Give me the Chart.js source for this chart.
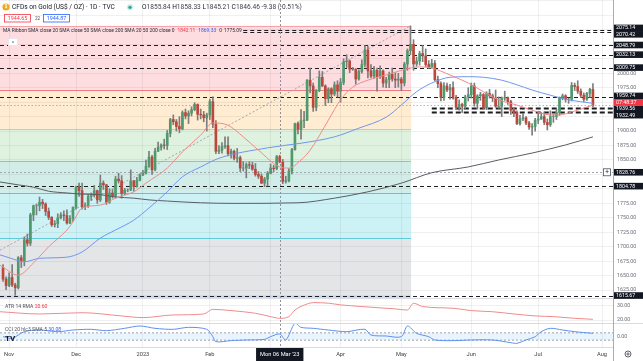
<!DOCTYPE html>
<html>
<head>
<meta charset="utf-8">
<script src="https://cdn.jsdelivr.net/npm/chart.js@4.4.0/dist/chart.umd.min.js"></script>
<style>
  html, body { margin: 0; padding: 0; background: #fff; overflow: hidden; }
  canvas { display: block; }
</style>
</head>
<body>
<canvas id="c" width="643" height="361"></canvas>
<script>
// daily candles, index 0 = Fri 28 Oct 2022, last = Thu 27 Jul 2023
const OPEN = [
  1664,1644,1633,1647,1634,1629,1681,1676,1712,1706,
  1755,1771,1771,1777,1774,1761,1751,1738,1740,1750,
  1755,1754,1741,1749,1768,1803,1797,1769,1771,1787,
  1789,1797,1781,1810,1807,1777,1793,1787,1817,1814,
  1792,1798,1798,1814,1804,1815,1824,1827,1839,1855,
  1833,1865,1872,1876,1875,1896,1920,1916,1908,1904,
  1932,1926,1931,1937,1946,1929,1928,1923,1928,1951,
  1912,1865,1867,1873,1875,1861,1865,1853,1854,1836,
  1836,1842,1841,1834,1825,1822,1810,1817,1827,1836,
  1835,1855.84,1846,1813,1814,1831,1868,1913,1903,1918,
  1919,1988,1978,1941,1970,1993,1978,1956,1973,1964,
  1980,1969,1984,2020,2021,2007,2007,1990,2003,2015,
  2040,2004,1995,2005,1994,2004,1983,1989,1998,1990,
  1988,1990,1983,2016,2039,2050,2016,2021,2034,2030,
  2015,2011,2017,1989,1982,1958,1978,1971,1975,1957,
  1941,1946,1943,1959,1963,1978,1948,1961,1963,1940,
  1965,1961,1957,1943,1943,1957,1958,1951,1936,1932,
  1913,1921,1923,1914,1907,1908,1919,1921,1925,1915,
  1911,1925,1925,1932,1957,1961,1955,1955,1979,1977,
  1969,1962,1955,1965,1972
];
const HIGH = [
  1669,1648,1655,1669,1637,1683,1685,1717,1722,1758,
  1772,1774,1786,1782,1776,1767,1752,1745,1757,1759,
  1762,1764,1754,1769,1805,1810,1810,1776,1790,1793,
  1806,1798,1824,1814,1808,1800,1799,1822,1827,1823,
  1801,1800,1833,1815,1820,1826,1832,1850,1865,1858,
  1870,1881,1878,1886,1901,1922,1928,1920,1925,1935,
  1938,1935,1942,1949,1947,1938,1934,1931,1955,1959,
  1918,1875,1880,1890,1890,1869,1867,1870,1857,1847,
  1845,1847,1846,1844,1830,1826,1820,1830,1843,1841,
  1858,1858.33,1851,1822,1835,1870,1914,1916,1937,1934,
  1989,2009,1983,1972,2004,2003,1980,1975,1975,1985,
  1987,1991,2025,2032,2023,2010,2008,2006,2023,2048,
  2047,2015,2012,2009,2013,2006,1993,2002,2009,2001,
  2000,1993,2019,2042,2081.82,2058,2028,2038,2048,2042,
  2022,2024,2022,1995,1985,1984,1983,1981,1985,1962,
  1954,1948,1962,1975,1983,1983,1963,1967,1965,1968,
  1972,1964,1971,1959,1959,1969,1959,1953,1940,1935,
  1927,1930,1925,1917,1913,1922,1930,1932,1932,1921,
  1935,1929,1938,1959,1964,1963,1957,1984,1983,1987,
  1973,1966,1967,1974,1982
];
const LOW = [
  1640,1626,1631,1631,1616,1627,1664,1667,1701,1702,
  1745,1755,1762,1766,1754,1747,1735,1734,1733,1748,
  1745,1739,1740,1744,1765,1787,1765,1764,1768,1780,
  1786,1775,1778,1799,1773,1775,1784,1784,1810,1784,
  1790,1795,1797,1796,1803,1814,1823,1826,1837,1825,
  1831,1865,1867,1869,1868,1890,1911,1900,1897,1902,
  1921,1913,1926,1935,1919,1921,1916,1900,1920,1906,
  1861,1861,1862,1870,1857,1853,1850,1846,1830,1831,
  1819,1835,1832,1822,1818,1809,1804,1805,1826,1830,
  1833,1845.21,1809,1810,1812,1826,1867,1895,1886,1906,
  1918,1966,1934,1935,1968,1977,1944,1949,1949,1961,
  1959,1950,1980,2010,2001,2005,1981,1988,2000,2011,
  1992,1992,1991,1969,1991,1976,1975,1975,1986,1975,
  1976,1970,1978,2005,2032,2005,2012,2014,2020,2011,
  2008,2009,1987,1975,1952,1953,1968,1955,1955,1937,
  1936,1932,1938,1952,1957,1943,1938,1953,1939,1937,
  1957,1951,1941,1939,1925,1953,1946,1929,1925,1911,
  1910,1918,1911,1903,1893,1900,1913,1920,1911,1902,
  1908,1915,1920,1927,1954,1950,1948,1952,1970,1965,
  1958,1951,1953,1958,1942
];
const CLOSE = [
  1644,1633,1647,1634,1629,1681,1676,1712,1706,1755,
  1771,1771,1777,1774,1761,1751,1738,1740,1750,1755,
  1754,1741,1749,1768,1803,1797,1769,1771,1787,1789,
  1797,1781,1810,1807,1777,1793,1787,1817,1814,1792,
  1798,1798,1814,1804,1815,1824,1827,1839,1855,1833,
  1865,1872,1876,1875,1896,1920,1916,1908,1904,1932,
  1926,1931,1937,1946,1929,1928,1923,1928,1951,1912,
  1865,1867,1873,1875,1861,1865,1853,1854,1836,1836,
  1842,1841,1834,1825,1822,1810,1817,1827,1836,1835,
  1855.84,1846.46,1813,1814,1831,1868,1913,1903,1918,1919,
  1988,1978,1941,1970,1993,1978,1956,1973,1964,1980,
  1969,1984,2020,2021,2007,2007,1990,2003,2015,2040,
  2004,1995,2005,1994,2004,1983,1989,1998,1990,1988,
  1990,1983,2016,2039,2050,2016,2021,2034,2030,2015,
  2011,2017,1989,1982,1958,1978,1971,1975,1957,1941,
  1946,1943,1959,1963,1978,1948,1961,1963,1940,1965,
  1961,1957,1943,1943,1957,1958,1951,1936,1932,1913,
  1921,1923,1914,1907,1908,1919,1921,1925,1915,1911,
  1925,1925,1932,1957,1961,1955,1955,1979,1977,1969,
  1962,1955,1965,1972,1944.7
];

// moving averages (candle index -> value)
const MA20_IDX = [-1,5,10,15,21,23,26,32,37,43,47,54,59,65,69,74,79,84,91,94,98,101,107,111,115,120,126,134,137,141,147,153,158,163,169,174,180,183,187,194];
const MA20_VAL = [1668,1651,1672,1700,1729,1743,1767,1772,1784,1795,1810,1836,1864,1893,1914,1910,1890,1867,1838,1836,1850,1867,1919,1954,1976,1988,1997,2009,2011,2009,1997,1983,1968,1954,1945,1936,1928,1928,1933,1945];
const MA50_IDX = [-1,2,7,12,21,26,32,37,43,48,54,59,65,71,87,98,109,117,126,131,136,141,147,153,158,164,169,174,180,186,194];
const MA50_VAL = [1686,1681,1674,1680,1682,1691,1715,1729,1746,1767,1795,1821,1838,1853,1871,1879,1890,1905,1924,1945,1968,1983,1993,1994,1993,1988,1980,1971,1962,1954,1948];
const MA200_IDX = [-1,5,10,15,21,26,32,37,43,48,54,65,76,97,109,120,131,141,153,163,174,185,194];
const MA200_VAL = [1812,1807,1803,1796,1793,1791,1790,1786,1784,1781,1779,1776,1775,1776,1784,1795,1810,1828,1838,1850,1862,1876,1890];

const ATR_IDX = [-1,12,26,39,46,56,66,69,75,83,88,91,94,96,100,102,107,111,118,129,133,135,138,148,154,161,168,175,181,188,194];
const ATR_VAL = [25.9,24.3,25.2,22.9,21.7,23.6,24.3,27.6,26.7,24.8,22.4,21.2,22.4,27.1,31.4,32.4,32.0,30.8,29.6,27.9,27.1,32.0,29.6,28.4,26.7,25.9,24.3,22.9,22.4,21.2,20.5];
const CCI_IDX = [0,3,7,12,18,23,29,34,40,45,50,56,61,67,69,70,75,80,86,88,91,93,96,98,102,107,113,119,121,126,131,133,136,140,142,148,154,161,167,169,172,175,177,180,184,188,194];
const CCI_VAL = [-5,-50,132,178,132,178,197,160,224,288,224,197,251,197,-5,-142,-114,-96,-78,-5,69,-96,361,251,224,178,132,197,41,14,-5,288,87,-5,-96,-114,-96,-96,-169,-187,-96,-5,132,224,178,132,87];

// time axis
const MONTH_IDX = [2, 24, 46, 68, 88, 111, 131, 154, 176, 197];
const MONTH_LBL = ['Nov', 'Dec', '2023', 'Feb', 'Mar', 'Apr', 'May', 'Jun', 'Jul', 'Aug'];

// drawn levels
const LEVELS = [2075.14, 2070.42, 2048.79, 2032.13, 2009.75, 1959.74, 1939.56, 1932.49, 1804.78, 1615.67];
const LEVEL_FROM = [79, 79, -1, -1, -1, -1, 141, 141, -1, -1];
const FIB_LOW = 1615.67, FIB_HIGH = 2081.82, FIB_FROM = -1, FIB_TO = 134.2;
const FIB_RATIOS = [0, 0.236, 0.382, 0.5, 0.618, 0.786, 1];
const TREND = [[-1, 1694], [134, 2081.82]];
const CROSS_IDX = 91, CROSS_PRICE = 1828.76, CROSS_LABEL = "Mon 06 Mar '23";
const COUNTDOWN = '07:48:37';
const ATR_TICKS = [20, 30], CCI_TICKS = [0];

const FONT = 'Roboto, "Noto Sans", sans-serif';
const UP = '#4f9a6c', DOWN = '#be473c', WICK = '#7d7d7d';
const GRID = 'rgba(42,46,57,0.07)';
const FIB_FILL = ['rgba(242,54,69,0.17)', 'rgba(255,152,0,0.18)', 'rgba(76,175,80,0.18)', 'rgba(8,153,129,0.18)', 'rgba(0,188,212,0.2)', 'rgba(120,123,134,0.2)'];
const FIB_LINE = ['#f7a1a8', '#f27a84', '#f5c26b', '#8fcf8c', '#6cc4b3', '#63c9d8', '#c3d3f3'];

const pairs = (xs, ys) => xs.map((x, i) => ({ x: x, y: ys[i] }));
const lastClose = CLOSE[CLOSE.length - 1];
const tagged = LEVELS.concat([CROSS_PRICE, lastClose]);
const priceLabel = v => (v > 2080 || tagged.some(l => Math.abs(l - v) < 8)) ? '' : v.toFixed(2);

function line(ctx, x0, y0, x1, y1, color, w, dash) {
  ctx.beginPath();
  ctx.strokeStyle = color;
  ctx.lineWidth = w;
  ctx.setLineDash(dash || []);
  ctx.moveTo(x0, y0);
  ctx.lineTo(x1, y1);
  ctx.stroke();
  ctx.setLineDash([]);
}

function txt(ctx, s, x, y, size, color, align, weight) {
  ctx.font = (weight || '') + ' ' + size + 'px ' + FONT;
  ctx.fillStyle = color;
  ctx.textAlign = align || 'left';
  ctx.textBaseline = 'middle';
  ctx.fillText(s, x, y);
  return ctx.measureText(s).width;
}

const fibPlugin = {
  id: 'fib',
  beforeDraw(chart) {
    const { ctx, scales: { x, y } } = chart;
    const x0 = x.getPixelForValue(FIB_FROM), x1 = x.getPixelForValue(FIB_TO);
    const range = FIB_HIGH - FIB_LOW;
    ctx.save();
    for (let k = 0; k < FIB_RATIOS.length - 1; k++) {
      const ya = y.getPixelForValue(FIB_HIGH - FIB_RATIOS[k] * range);
      const yb = y.getPixelForValue(FIB_HIGH - FIB_RATIOS[k + 1] * range);
      ctx.fillStyle = FIB_FILL[k];
      ctx.fillRect(x0, ya, x1 - x0, yb - ya);
    }
    FIB_RATIOS.forEach((r, k) => {
      const yy = Math.round(y.getPixelForValue(FIB_HIGH - r * range)) + 0.5;
      line(ctx, x0, yy, x1, yy, FIB_LINE[k], k === FIB_RATIOS.length - 1 ? 2.5 : 1);
    });
    ctx.restore();
  },
  beforeDatasetsDraw(chart) {
    const { ctx, chartArea: a, scales: { x, y } } = chart;
    ctx.save();
    // fib trend line
    line(ctx, x.getPixelForValue(TREND[0][0]), y.getPixelForValue(TREND[0][1]),
      x.getPixelForValue(TREND[1][0]), y.getPixelForValue(TREND[1][1]), '#a3a6ad', 1, [2, 2]);
    // horizontal levels
    LEVELS.forEach((v, k) => {
      const yy = Math.round(y.getPixelForValue(v)) + 0.5;
      const bold = LEVEL_FROM[k] > 100;
      line(ctx, x.getPixelForValue(LEVEL_FROM[k]), yy, a.right, yy, '#1c1d22', bold ? 1.8 : 1.2, bold ? [5, 3] : [4, 3]);
    });
    // current price line
    const yc = Math.round(y.getPixelForValue(lastClose)) + 0.5;
    line(ctx, a.left, yc, a.right, yc, 'rgba(242,54,69,0.5)', 1, [1.5, 2]);
    // crosshair
    const cx = Math.round(x.getPixelForValue(CROSS_IDX)) + 0.5;
    line(ctx, cx, a.top, cx, a.bottom, '#8f929b', 1, [2, 2]);
    const cy = Math.round(y.getPixelForValue(CROSS_PRICE)) + 0.5;
    line(ctx, a.left, cy, a.right, cy, '#a3a6ad', 1, [2, 2]);
    // CCI band
    const yC = chart.scales.yC;
    const b1 = yC.getPixelForValue(100), b2 = yC.getPixelForValue(-100);
    ctx.fillStyle = 'rgba(33,150,243,0.1)';
    ctx.fillRect(a.left, b1, a.right - a.left, b2 - b1);
    line(ctx, a.left, b1, a.right, b1, '#9fa3ad', 1, [2, 2]);
    line(ctx, a.left, b2, a.right, b2, '#9fa3ad', 1, [2, 2]);
    ctx.restore();
  },
  afterDraw(chart) {
    const { ctx, chartArea: a, scales: { x, y, yA, yC } } = chart;
    ctx.save();
    // pane separators and axis border
    [yA.top, yC.top].forEach(t => line(ctx, 0, Math.round(t) + 0.5, 643, Math.round(t) + 0.5, '#d9dbe1', 1));
    line(ctx, a.right + 0.5, 0, a.right + 0.5, 361, '#a9acb4', 1);

    // axis tick labels on the right
    y.ticks.forEach(t => {
      const s = priceLabel(t.value);
      if (s) txt(ctx, s, a.right + 4, y.getPixelForValue(t.value), 5.3, '#6a6d78');
    });
    ATR_TICKS.forEach(v => txt(ctx, v.toFixed(2), a.right + 4, yA.getPixelForValue(v), 5.3, '#6a6d78'));
    CCI_TICKS.forEach(v => txt(ctx, v.toFixed(2), a.right + 4, yC.getPixelForValue(v), 5.3, '#6a6d78'));

    // right side price tags
    const tags = LEVELS.map(v => ({ v: v, t: v.toFixed(2), bg: '#131722' }));
    tags.push({ v: CROSS_PRICE, t: CROSS_PRICE.toFixed(2), bg: '#131722', plus: true });
    tags.push({ v: lastClose, t: COUNTDOWN, bg: '#f23645', top: true });
    tags.forEach(g => { g.y = y.getPixelForValue(g.v); });
    tags.sort((p, q) => p.y - q.y);
    const GAP = 6.4;
    for (let it = 0; it < 40; it++) {
      for (let k = 1; k < tags.length; k++) {
        const d = tags[k].y - tags[k - 1].y;
        if (d < GAP) { const m = (GAP - d) / 2; tags[k].y += m; tags[k - 1].y -= m; }
      }
    }
    const drawTag = g => {
      ctx.fillStyle = g.bg;
      ctx.fillRect(a.right + 1, g.y - 3.3, 643 - a.right, 6.6);
      txt(ctx, g.t, a.right + 3, g.y + 0.2, 5.3, '#ffffff');
      if (g.plus) {
        ctx.fillStyle = '#ffffff';
        ctx.fillRect(a.right - 10, g.y - 3.5, 8, 7);
        ctx.strokeStyle = '#50535e';
        ctx.lineWidth = 0.8;
        ctx.strokeRect(a.right - 10 + 0.5, g.y - 3.5, 7, 7);
        txt(ctx, '+', a.right - 6, g.y + 0.2, 6.5, '#131722', 'center');
      }
    };
    tags.filter(g => !g.top).forEach(drawTag);
    tags.filter(g => g.top).forEach(drawTag);

    // crosshair date label
    const cx = x.getPixelForValue(CROSS_IDX);
    ctx.font = '5.7px ' + FONT;
    const w = ctx.measureText(CROSS_LABEL).width + 8;
    ctx.fillStyle = '#131722';
    ctx.fillRect(cx - w / 2, a.bottom + 1, w, 13);
    txt(ctx, CROSS_LABEL, cx, a.bottom + 7.5, 5.7, '#ffffff', 'center');

    // gear icon
    ctx.beginPath();
    ctx.strokeStyle = '#50535e';
    ctx.lineWidth = 0.9;
    ctx.arc(628, 354, 3, 0, Math.PI * 2);
    ctx.stroke();
    ctx.beginPath();
    ctx.arc(628, 354, 1.1, 0, Math.PI * 2);
    ctx.stroke();

    // header row 1
    ctx.beginPath();
    ctx.fillStyle = '#f0a81c';
    ctx.arc(6, 7, 3.6, 0, Math.PI * 2);
    ctx.fill();
    txt(ctx, '$', 6, 7.2, 4.5, '#ffffff', 'center', 'bold');
    txt(ctx, 'CFDs on Gold (US$ / OZ) · 1D · TVC', 12, 7.5, 6.6, '#131722');
    ctx.beginPath();
    ctx.fillStyle = 'rgba(34,171,148,0.25)';
    ctx.arc(130, 7.3, 3, 0, Math.PI * 2);
    ctx.fill();
    ctx.beginPath();
    ctx.fillStyle = '#22ab94';
    ctx.arc(130, 7.3, 1.6, 0, Math.PI * 2);
    ctx.fill();
    let px = 142;
    [['O', '1855.84'], [' H', '1858.33'], [' L', '1845.21'], [' C', '1846.46'], [' ', '-9.38 (-0.51%)']].forEach(p => {
      px += txt(ctx, p[0], px, 7.5, 6.6, '#131722');
      px += txt(ctx, p[1], px, 7.5, 6.6, '#3b3e48');
    });

    // header row 2: sell / buy boxes
    const box = (bx, t, col) => {
      ctx.fillStyle = '#ffffff';
      ctx.fillRect(bx, 14.5, 27, 7.5);
      ctx.strokeStyle = col;
      ctx.lineWidth = 0.8;
      ctx.strokeRect(bx + 0.5, 14.5, 26, 7.5);
      txt(ctx, t, bx + 13.5, 18.4, 5.4, col, 'center');
    };
    box(4, '1944.65', '#f23645');
    txt(ctx, '22', 37.5, 18.4, 4.6, '#50535e', 'center');
    box(43, '1944.87', '#2962ff');

    // header row 3: indicator legend
    px = 3;
    px += txt(ctx, 'MA Ribbon SMA close 20 SMA close 50 SMA close 200 SMA 20 50 200 close 0', px, 30.5, 4.9, '#2a2e39');
    px += 3;
    px += txt(ctx, '1842.11', px, 30.5, 4.9, '#f23645') + 3;
    px += txt(ctx, '1869.33', px, 30.5, 4.9, '#2962ff') + 3;
    px += txt(ctx, '0', px, 30.5, 4.9, '#2a2e39') + 2;
    txt(ctx, '1775.09', px, 30.5, 4.9, '#2a2e39');
    // collapse button
    ctx.fillStyle = '#ffffff';
    ctx.fillRect(8, 38, 10, 8);
    ctx.strokeStyle = '#e0e3eb';
    ctx.strokeRect(8.5, 38.5, 9, 7);
    txt(ctx, '^', 13, 43, 6, '#50535e', 'center');

    // lower pane legends
    let lx = 5;
    lx += txt(ctx, 'ATR 14 RMA ', lx, yA.getPixelForValue(29.3), 5.1, '#50535e');
    txt(ctx, '20.60', lx, yA.getPixelForValue(29.3), 5.1, '#f23645');
    lx = 5;
    lx += txt(ctx, 'CCI 20 hlc3 SMA 5 ', lx, yC.getPixelForValue(180), 5.1, '#50535e');
    txt(ctx, '30.08', lx, yC.getPixelForValue(180), 5.1, '#2962ff');
    txt(ctx, 'TV', 5, yC.getPixelForValue(-60), 8, '#131722', 'left', 'bold');
    ctx.restore();
  }
};

const idx = CLOSE.map((c, i) => i);
new Chart(document.getElementById('c').getContext('2d'), {
  type: 'bar',
  data: {
    datasets: [
      { type: 'line', data: pairs(MA20_IDX, MA20_VAL), yAxisID: 'y', borderColor: '#f08a8a', borderWidth: 1, pointRadius: 0, cubicInterpolationMode: 'monotone', order: 0 },
      { type: 'line', data: pairs(MA50_IDX, MA50_VAL), yAxisID: 'y', borderColor: '#6f96ee', borderWidth: 1, pointRadius: 0, cubicInterpolationMode: 'monotone', order: 0 },
      { type: 'line', data: pairs(MA200_IDX, MA200_VAL), yAxisID: 'y', borderColor: '#5a5c63', borderWidth: 1, pointRadius: 0, cubicInterpolationMode: 'monotone', order: 0 },
      { type: 'bar', data: idx.map(i => ({ x: i, y: [LOW[i], HIGH[i]] })), yAxisID: 'y', backgroundColor: WICK, barThickness: 1, grouped: false, order: 2 },
      { type: 'bar', data: idx.map(i => ({ x: i, y: [OPEN[i], CLOSE[i]] })), yAxisID: 'y', backgroundColor: idx.map(i => CLOSE[i] >= OPEN[i] ? UP : DOWN), barThickness: 2, grouped: false, order: 1 },
      { type: 'line', data: pairs(ATR_IDX, ATR_VAL), yAxisID: 'yA', borderColor: '#ef8b8b', borderWidth: 1, pointRadius: 0, cubicInterpolationMode: 'monotone', order: 0 },
      { type: 'line', data: pairs(CCI_IDX, CCI_VAL), yAxisID: 'yC', borderColor: '#5f8ff0', borderWidth: 1, pointRadius: 0, tension: 0.3, order: 0 }
    ]
  },
  options: {
    responsive: false,
    animation: false,
    events: [],
    layout: { padding: 0 },
    plugins: { legend: { display: false }, tooltip: { enabled: false } },
    scales: {
      x: {
        type: 'linear', min: -1, max: 200.6, position: 'bottom', offset: false,
        afterBuildTicks: s => { s.ticks = MONTH_IDX.map(v => ({ value: v })); },
        afterFit: s => { s.height = 14; },
        ticks: {
          autoSkip: false, maxRotation: 0, padding: 4, color: '#3e414b',
          font: { family: FONT, size: 5.7 },
          callback: v => MONTH_LBL[MONTH_IDX.indexOf(v)] || ''
        },
        grid: { color: GRID, drawTicks: false, offset: false },
        border: { color: '#d9dbe1' }
      },
      y: {
        type: 'linear', position: 'right', stack: 'pane', stackWeight: 298,
        min: 1611.4, max: 2126.6,
        afterFit: s => { s.width = 30; },
        ticks: { display: false, stepSize: 25, includeBounds: false },
        grid: { color: GRID, drawTicks: false },
        border: { color: '#a9acb4' }
      },
      yA: {
        type: 'linear', position: 'right', stack: 'pane', stackWeight: 25,
        min: 17.86, max: 35.7,
        afterBuildTicks: s => { s.ticks = ATR_TICKS.map(v => ({ value: v })); },
        afterFit: s => { s.width = 30; },
        ticks: { display: false },
        grid: { color: GRID, drawTicks: false },
        border: { color: '#a9acb4' }
      },
      yC: {
        type: 'linear', position: 'right', stack: 'pane', stackWeight: 24,
        min: -288, max: 370,
        afterFit: s => { s.width = 30; },
        ticks: { display: false },
        grid: { display: false },
        border: { color: '#a9acb4' }
      }
    }
  },
  plugins: [fibPlugin]
});
</script>
</body>
</html>
